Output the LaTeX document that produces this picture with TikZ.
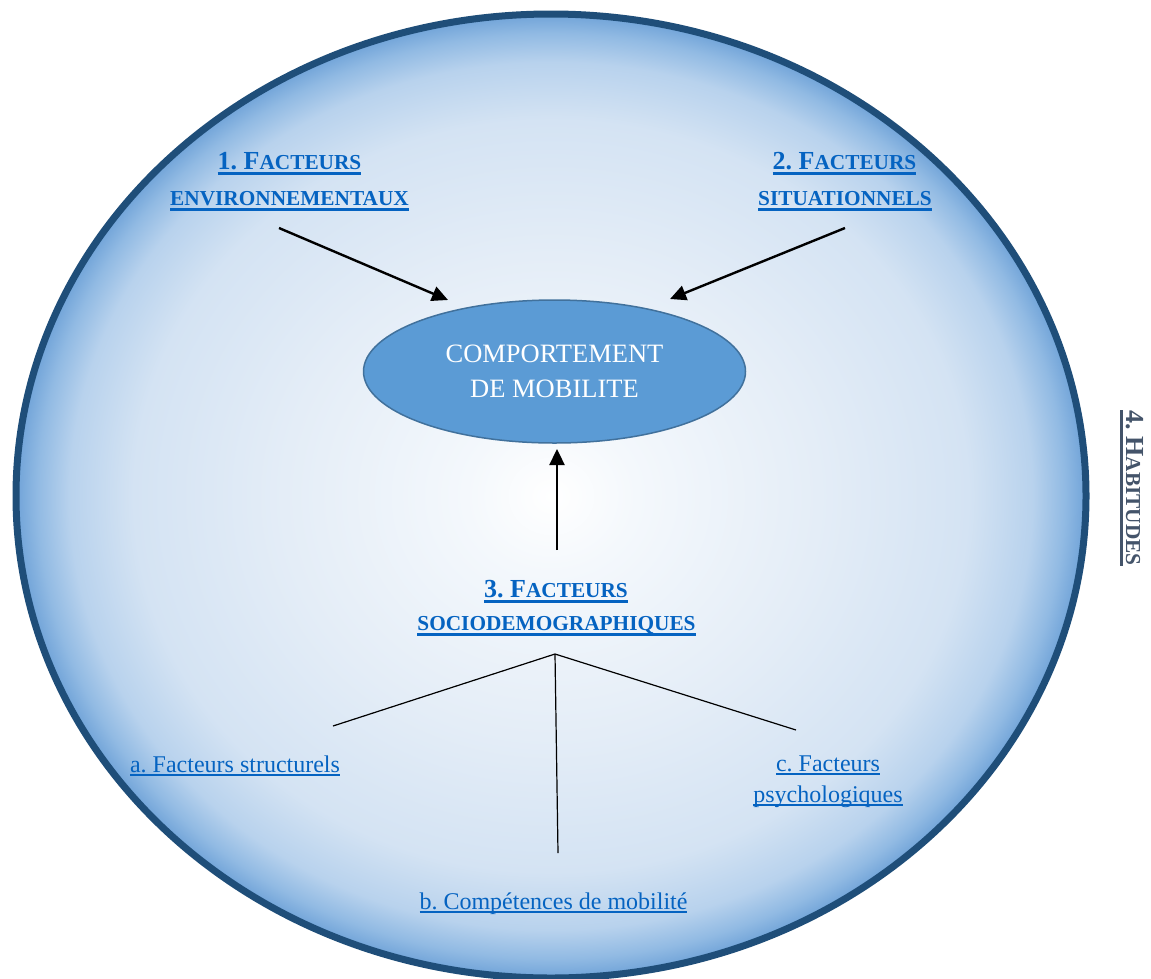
\documentclass[tikz,border=0pt]{standalone}
\usepackage{fontspec}
\setmainfont{Liberation Serif}
\usetikzlibrary{shapes.geometric,arrows.meta}
\frenchspacing
\definecolor{rim}{RGB}{31,78,121}
\definecolor{linkblue}{RGB}{5,99,193}
\definecolor{habgray}{RGB}{68,84,106}
\definecolor{ellfill}{RGB}{91,155,213}
\definecolor{elldraw}{RGB}{65,113,156}
\definecolor{shA}{RGB}{244,248,252}
\definecolor{shB}{RGB}{228,237,247}
\definecolor{shC}{RGB}{212,227,243}
\definecolor{shD}{RGB}{184,210,237}
\definecolor{shE}{RGB}{145,186,227}
\definecolor{shF}{RGB}{112,163,216}
\pgfdeclareradialshading{bubble}{\pgfpoint{0bp}{0bp}}{color(0bp)=(white); color(4bp)=(shA); color(12.5bp)=(shB); color(19.5bp)=(shC); color(22.5bp)=(shD); color(24bp)=(shE); color(25bp)=(shF); color(50bp)=(shF)}
\newcommand\hsz{\fontsize{26}{36}\selectfont}
\newcommand\ssz{\fontsize{21.3}{36}\selectfont}
\newcommand\hul[1]{\setbox0\hbox{#1}\leavevmode\rlap{\rule[-6pt]{\wd0}{2.8pt}}\box0}
\newcommand\bul[1]{\setbox0\hbox{#1}\leavevmode\rlap{\rule[-3.8pt]{\wd0}{1.7pt}}\box0}
\tikzset{
  head/.style={text=linkblue, font=\bfseries, inner sep=0pt, anchor=base},
  body/.style={text=linkblue, font=\fontsize{24}{31}\selectfont, inner sep=0pt, anchor=base},
  arr/.style={line width=2.4pt, -{Triangle[length=16pt,width=15pt]}},
  branch/.style={line width=1.2pt},
}
\begin{document}
\begin{tikzpicture}[x=1pt,y=-1pt]
\useasboundingbox (0,0) rectangle (1151,978);
\draw[rim, line width=7pt, shading=bubble] (551,496) ellipse [x radius=535, y radius=482];

% central ellipse
\node[ellipse, draw=elldraw, fill=ellfill, line width=1.5pt, minimum width=382pt, minimum height=143pt, inner sep=0pt, align=center, text=white, font=\fontsize{26.5}{35}\selectfont] (beh) at (554.5,371.5) {COMPORTEMENT\\DE MOBILITE};

% headings
\node[head] (h1a) at (289.5,169) {\hul{\hsz 1. F\ssz ACTEURS}};
\node[head] (h1b) at (289.5,205) {\hul{\ssz ENVIRONNEMENTAUX}};
\node[head] (h2a) at (844.5,169) {\hul{\hsz 2. F\ssz ACTEURS}};
\node[head] (h2b) at (845,205) {\hul{\ssz SITUATIONNELS}};
\node[head] (h3a) at (556,597) {\hul{\hsz 3. F\ssz ACTEURS}};
\node[head] (h3b) at (556.5,630) {\hul{\ssz SOCIODEMOGRAPHIQUES}};
\node[head, text=habgray, rotate=-90] (h4) at (1126,488) {\hul{\hsz 4. H\ssz ABITUDES}};

% sub-factors
\node[body] (fa) at (235,772) {\bul{a. Facteurs structurels}};
\node[body] (fc1) at (828,771) {\bul{c. Facteurs}};
\node[body] (fc2) at (828,802) {\bul{psychologiques}};
\node[body] (fb) at (553.5,909) {\bul{b. Compétences de mobilité}};

% arrow ends
\coordinate (s1) at (279,228);
\coordinate (t1) at (448,300);
\coordinate (s2) at (845,228);
\coordinate (t2) at (670,299);
\coordinate (s3) at (557,550);
\coordinate (t3) at (557,449);
\draw[arr] (s1) -- (t1);
\draw[arr] (s2) -- (t2);
\draw[arr] (s3) -- (t3);

% branches
\coordinate (apex) at (555,654);
\coordinate (ea) at (333,726);
\coordinate (eb) at (558,853);
\coordinate (ec) at (796,730);
\draw[branch] (apex) -- (ea);
\draw[branch] (apex) -- (eb);
\draw[branch] (apex) -- (ec);
\end{tikzpicture}
\end{document}
